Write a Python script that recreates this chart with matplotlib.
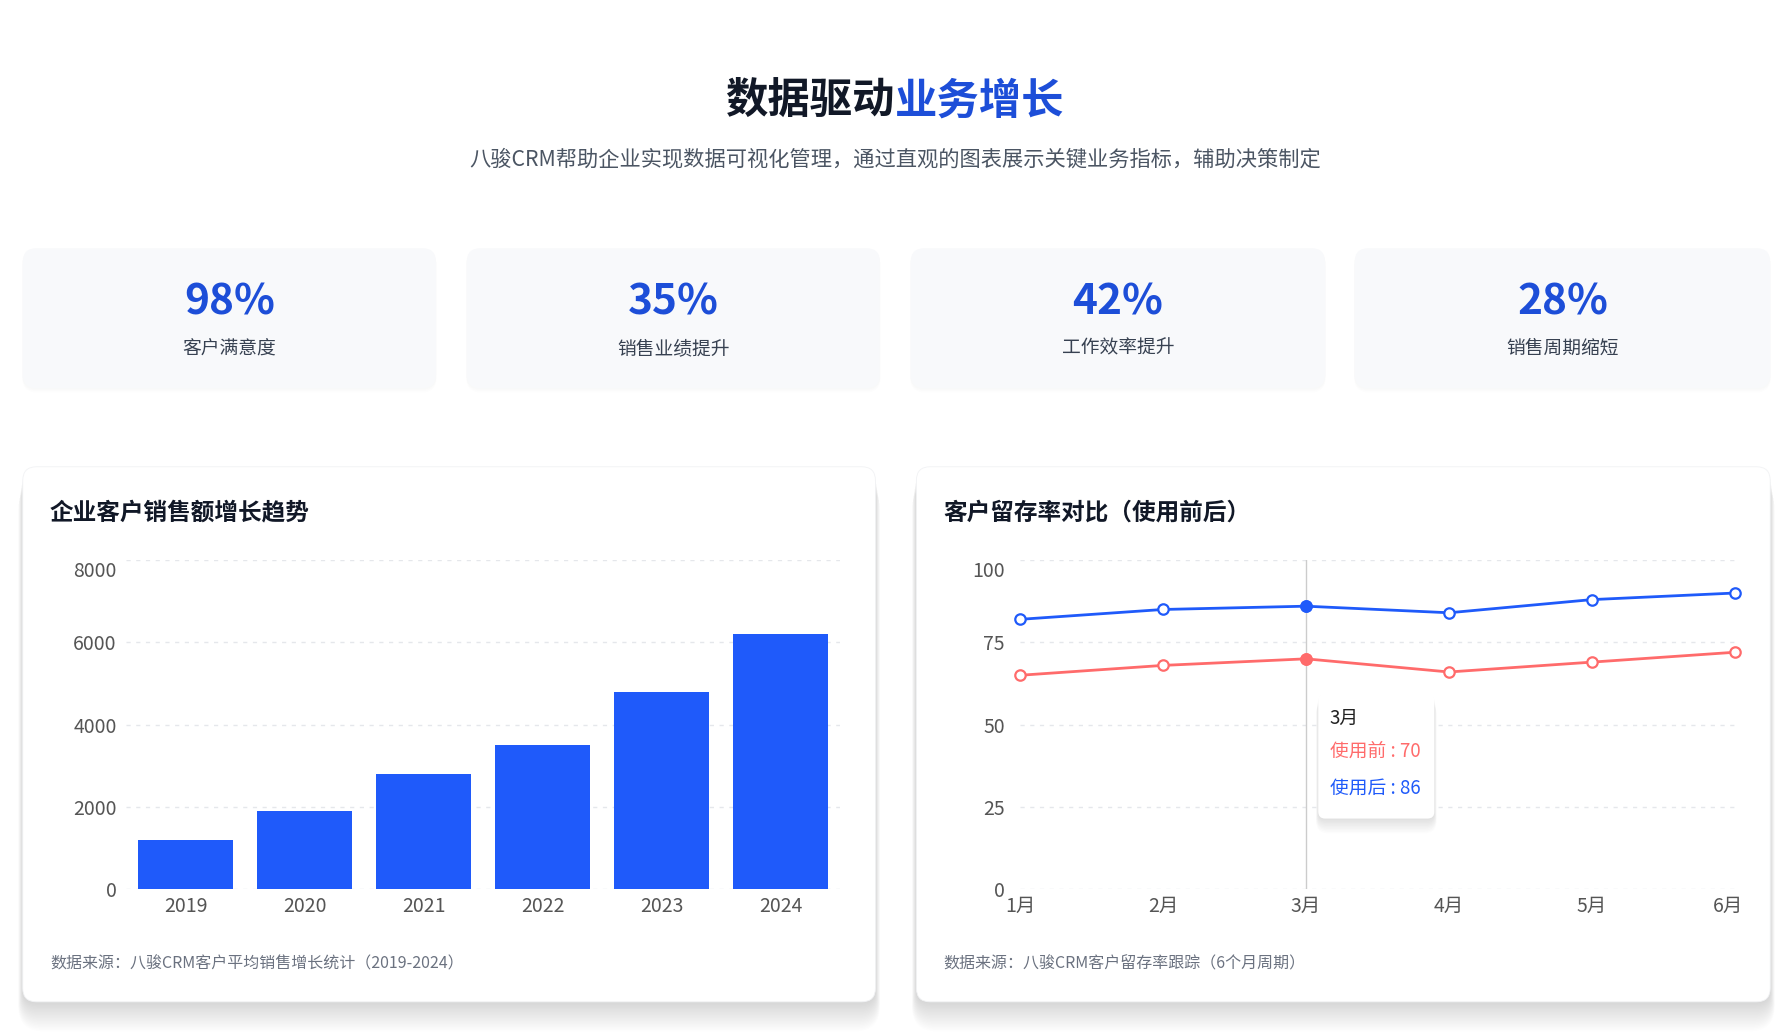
import numpy as np
import matplotlib
matplotlib.use("Agg")
import matplotlib.pyplot as plt
from matplotlib.patches import FancyBboxPatch
from matplotlib.transforms import ScaledTranslation

plt.rcParams['font.family'] = ['Noto Sans CJK SC', 'DejaVu Sans']

# ── data ──────────────────────────────────────────────────────────────────────
title_dark = "数据驱动"
title_blue = "业务增长"
subtitle = "八骏CRM帮助企业实现数据可视化管理，通过直观的图表展示关键业务指标，辅助决策制定"

kpi_values = ["98%", "35%", "42%", "28%"]
kpi_labels = ["客户满意度", "销售业绩提升", "工作效率提升", "销售周期缩短"]

years = ["2019", "2020", "2021", "2022", "2023", "2024"]
sales = [1200, 1900, 2800, 3500, 4800, 6200]
sales_ticks = [0, 2000, 4000, 6000, 8000]

months = ["1月", "2月", "3月", "4月", "5月", "6月"]
before = [65, 68, 70, 66, 69, 72]
after = [82, 85, 86, 84, 88, 90]
retention_ticks = [0, 25, 50, 75, 100]
hover_idx = 2

left_title = "企业客户销售额增长趋势"
right_title = "客户留存率对比（使用前后）"
left_source = "数据来源：八骏CRM客户平均销售增长统计（2019-2024）"
right_source = "数据来源：八骏CRM客户留存率跟踪（6个月周期）"

# ── style ─────────────────────────────────────────────────────────────────────
BLUE_TXT = "#1d4ed8"
BLUE = "#1f5afa"
RED = "#ff6b6b"
DARK = "#111827"
GRAY = "#4b5563"
TICK = "#555555"

# layout works in a 1568 x 910 reference grid (figure is 1785 x 1036 px)
W, H = 1568, 910
fig = plt.figure(figsize=(17.85, 10.36), dpi=100)
fig.patch.set_facecolor("white")

bg = fig.add_axes([0, 0, 1, 1], zorder=0)
bg.set_xlim(0, W)
bg.set_ylim(H, 0)
bg.axis("off")


def rbox(ax, x0, y0, x1, y1, r, fc, shadow=0, z=1, ec="none", alpha=0.01):
    # soft drop shadow: stacked translucent boxes shifted downwards
    for k in range(shadow, 0, -1):
        ax.add_patch(FancyBboxPatch((x0 - k * 0.2, y0 + k * 0.8), x1 - x0 + k * 0.4, y1 - y0 + k * 0.5,
                                    boxstyle=f"round,pad=0,rounding_size={r + k * 0.5}",
                                    fc="#000000", ec="none", alpha=alpha, zorder=z))
    ax.add_patch(FancyBboxPatch((x0, y0), x1 - x0, y1 - y0,
                                boxstyle=f"round,pad=0,rounding_size={r}",
                                fc=fc, ec=ec, lw=0.6, zorder=z + 0.5))


# header
bg.text(786, 89, title_dark, ha="right", va="center", fontsize=30.5, fontweight="bold", color=DARK)
bg.text(786, 89, title_blue, ha="left", va="center", fontsize=30.5, fontweight="bold", color=BLUE_TXT)
bg.text(786, 140, subtitle, ha="center", va="center", fontsize=15.3, color=GRAY)

# kpi cards
card_x = [(20, 383), (410, 773), (800, 1164), (1190, 1555)]
for (x0, x1), v, lab in zip(card_x, kpi_values, kpi_labels):
    rbox(bg, x0, 218, x1, 341, 12, "#f8f9fb", shadow=3, alpha=0.006)
    cx = (x0 + x1) / 2
    bg.text(cx, 266, v, ha="center", va="center", fontsize=30.5, fontweight="bold", color=BLUE_TXT)
    bg.text(cx, 306, lab, ha="center", va="center", fontsize=13.5, color="#374151")

# chart panels
for x0, x1 in [(20, 769), (805, 1555)]:
    rbox(bg, x0, 410, x1, 880, 12, "white", shadow=20, ec="#f1f2f4", alpha=0.007)

bg.text(44, 450, left_title, ha="left", va="center", fontsize=17, fontweight="bold", color=DARK)
bg.text(829, 450, right_title, ha="left", va="center", fontsize=17, fontweight="bold", color=DARK)
bg.text(44, 847, left_source, ha="left", va="center", fontsize=11.5, color="#6b7280")
bg.text(829, 847, right_source, ha="left", va="center", fontsize=11.5, color="#6b7280")


def chart_axes(x0, x1, y0, y1):
    ax = fig.add_axes([x0 / W, 1 - y1 / H, (x1 - x0) / W, (y1 - y0) / H], zorder=5)
    ax.patch.set_alpha(0)
    for s in ax.spines.values():
        s.set_visible(False)
    ax.tick_params(length=0, labelsize=14, labelcolor=TICK)
    ax.yaxis.grid(True, linestyle=(0, (3, 4)), color="#e5e7eb", lw=1)
    ax.set_axisbelow(True)
    return ax


def nudge_top_label(ax):
    # top y label sits a little below its grid line in the reference
    ax.figure.canvas.draw()
    lab = ax.get_yticklabels()[-1]
    lab.set_transform(lab.get_transform() + ScaledTranslation(0, -0.085, fig.dpi_scale_trans))


# ── left: bars ────────────────────────────────────────────────────────────────
ax1 = chart_axes(111, 738, 492, 781)
x = np.arange(len(years))
ax1.bar(x, sales, width=0.8, color=BLUE, zorder=3)
ax1.set_xlim(-0.5, len(years) - 0.5)
ax1.set_ylim(0, 8000)
ax1.set_yticks(sales_ticks)
ax1.set_xticks(x)
ax1.set_xticklabels(years)
ax1.tick_params(axis="y", pad=7)
ax1.tick_params(axis="x", pad=5)

# ── right: lines ──────────────────────────────────────────────────────────────
ax2 = chart_axes(896, 1524, 492, 781)
xm = np.arange(len(months))
ax2.axvline(hover_idx, color="#cccccc", lw=1, zorder=2)
for vals, col in [(after, BLUE), (before, RED)]:
    ax2.plot(xm, vals, color=col, lw=2, zorder=3, clip_on=False)
    ax2.plot(xm, vals, "o", ms=7.5, mfc="white", mec=col, mew=1.6, zorder=4, clip_on=False)
    ax2.plot(xm[hover_idx], vals[hover_idx], "o", ms=8, mfc=col, mec=col, zorder=5, clip_on=False)
ax2.set_xlim(0, len(months) - 1)
ax2.set_ylim(0, 100)
ax2.set_yticks(retention_ticks)
ax2.set_xticks(xm)
ax2.set_xticklabels(months)
ax2.tick_params(axis="y", pad=11)
ax2.tick_params(axis="x", pad=5)
last = ax2.get_xticklabels()[-1]
last.set_transform(last.get_transform() + ScaledTranslation(-0.07, 0, fig.dpi_scale_trans))

nudge_top_label(ax1)
nudge_top_label(ax2)

# ── tooltip overlay ───────────────────────────────────────────────────────────
ov = fig.add_axes([0, 0, 1, 1], zorder=10)
ov.set_xlim(0, W)
ov.set_ylim(H, 0)
ov.axis("off")
ov.patch.set_alpha(0)
rbox(ov, 1158, 609, 1260, 719, 6, "white", shadow=10, z=1, alpha=0.01)
ov.text(1168, 631, months[hover_idx], ha="left", va="center", fontsize=13.5, color="#222222", zorder=5)
ov.text(1168, 660, f"使用前 : {before[hover_idx]}", ha="left", va="center", fontsize=13.5, color=RED, zorder=5)
ov.text(1168, 692, f"使用后 : {after[hover_idx]}", ha="left", va="center", fontsize=13.5, color=BLUE, zorder=5)

fig.savefig("out.png", dpi=100, facecolor="white")
